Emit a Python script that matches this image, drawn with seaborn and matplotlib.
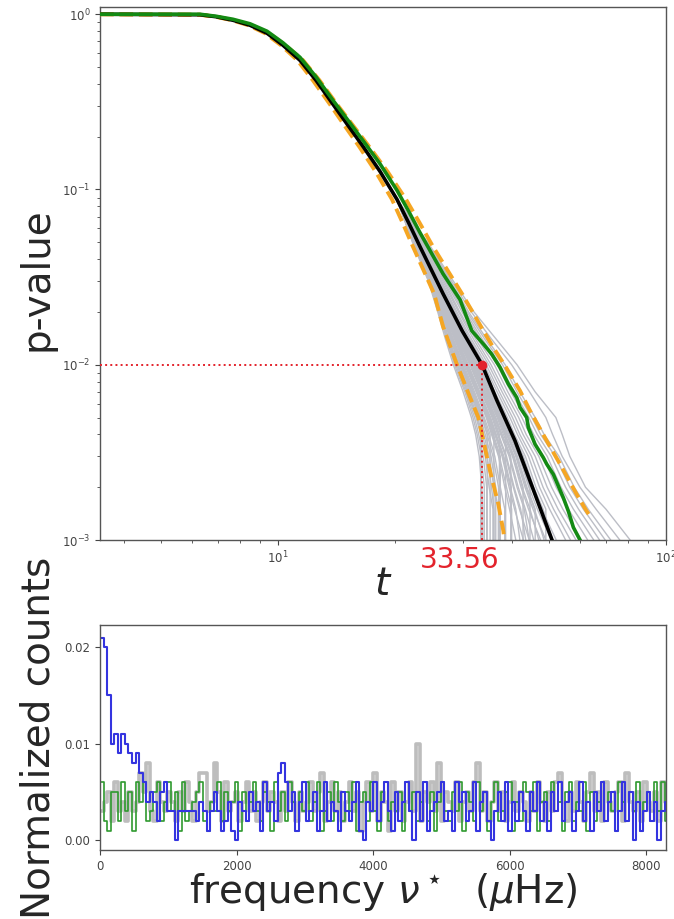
import numpy as np
import pandas as pd
import matplotlib
matplotlib.use("Agg")
import matplotlib.pyplot as plt
import seaborn as sns

# ---------------- top panel data ----------------
T_LIM = (3.477, 100.0)
P_LIM = (1e-3, 1.1)
T_CRIT = 33.56
P_ALPHA = 0.01

MEAN_T = [3.477, 6.295, 6.92, 7.656, 8.47, 9.368, 10.30, 11.39, 12.53, 13.86, 15.15, 16.56,
          18.32, 20.26, 21.69, 23.22, 26.63, 29.81, 33.56, 36.68, 40.81, 44.62, 50.84, 53.3]
MEAN_P = [1.0, 0.9934, 0.968, 0.924, 0.865, 0.779, 0.665, 0.546, 0.4196, 0.306, 0.232, 0.176,
          0.1267, 0.0877, 0.0648, 0.0472, 0.0254, 0.01564, 0.01, 0.00623, 0.00368, 0.00217,
          0.001, 0.00076]

OBS_T = [3.477, 6.295, 6.92, 7.656, 8.47, 9.368, 10.30, 11.39, 12.53, 13.86, 15.15, 16.56,
         18.32, 20.26, 21.69, 23.22, 26.63, 29.45, 31.57, 33.82, 35.54, 37.35, 39.23, 41.23,
         42.05, 43.75, 44.17, 45.96, 48.28, 49.26, 51.23, 54.37, 56.01, 57.70, 60.02, 61.46]
OBS_P = [1.0, 1.0, 0.974, 0.936, 0.882, 0.800, 0.687, 0.568, 0.439, 0.3225, 0.248, 0.190,
         0.140, 0.0988, 0.0754, 0.0567, 0.0330, 0.0235, 0.01564, 0.01313, 0.0115, 0.00965,
         0.00776, 0.0065, 0.0057, 0.0050, 0.00438, 0.00352, 0.00295, 0.00271, 0.00237,
         0.00174, 0.00146, 0.00118, 0.001, 0.00081]

LOW_T = [3.477, 6.295, 6.90, 7.61, 8.39, 9.26, 10.18, 11.22, 12.30, 13.61, 14.83, 16.18,
         17.84, 19.67, 20.93, 22.27, 25.25, 26.63, 28.88, 31.26, 32.84, 33.82, 35.18, 36.97,
         38.08, 38.46]
LOW_P = [1.0, 0.9934, 0.968, 0.924, 0.865, 0.779, 0.665, 0.546, 0.4196, 0.306, 0.232, 0.176,
         0.1267, 0.0877, 0.0648, 0.0472, 0.0254, 0.0165, 0.0101, 0.0065, 0.0050, 0.00368,
         0.00248, 0.0016, 0.001125, 0.00092]

HIGH_T = [3.477, 6.295, 6.94, 7.70, 8.55, 9.48, 10.45, 11.60, 12.79, 14.19, 15.60, 17.16,
          19.14, 21.37, 23.14, 25.08, 29.80, 33.82, 36.03, 38.46, 42.05, 44.62, 49.26, 53.31,
          58.87, 62.45, 63.69]
HIGH_P = [1.0, 0.9934, 0.968, 0.924, 0.865, 0.779, 0.665, 0.546, 0.4196, 0.306, 0.232, 0.176,
          0.1267, 0.0877, 0.0648, 0.0472, 0.0254, 0.01564, 0.01235, 0.00987, 0.0071, 0.00546,
          0.00368, 0.00271, 0.00182, 0.00146, 0.00137]

# simulated curves: common head, then t values at these p levels
SIM_HEAD_T = [3.477, 6.295, 6.92, 7.656, 8.47, 9.368, 10.30, 11.39, 12.53, 13.86, 15.15,
              16.56, 18.32, 20.26]
SIM_HEAD_P = [1.0, 0.9934, 0.968, 0.924, 0.865, 0.779, 0.665, 0.546, 0.4196, 0.306, 0.232,
              0.176, 0.1267, 0.0877]
SIM_TAIL_P = [0.05, 0.03, 0.02, 0.014, 0.01, 0.007, 0.005, 0.004, 0.003, 0.002, 0.0015, 0.001]
SIM_TAIL_T = [
    [22.2, 24.4, 25.8, 27.0, 28.3, 30.0, 31.5, 32.3, 33.0, 33.5, 33.7, 33.7],
    [22.3, 24.5, 26.0, 27.3, 28.7, 30.5, 32.1, 32.9, 33.8, 34.5, 34.5, 34.5],
    [22.4, 24.7, 26.2, 27.6, 29.1, 31.0, 32.7, 33.6, 34.6, 35.5, 36.0, 36.0],
    [22.4, 24.8, 26.4, 27.9, 29.5, 31.4, 33.2, 34.2, 35.4, 36.4, 36.4, 36.4],
    [22.5, 24.9, 26.6, 28.2, 29.9, 31.9, 33.8, 34.9, 36.2, 37.4, 38.4, 38.4],
    [22.6, 25.1, 26.8, 28.5, 30.3, 32.4, 34.4, 35.5, 37.0, 38.4, 39.5, 41.0],
    [22.7, 25.2, 27.0, 28.8, 30.7, 32.9, 35.0, 36.2, 37.8, 39.4, 40.7, 42.9],
    [22.8, 25.4, 27.3, 29.1, 31.2, 33.4, 35.6, 36.8, 38.6, 40.4, 41.9, 44.4],
    [22.8, 25.5, 27.5, 29.4, 31.6, 33.8, 36.1, 37.5, 39.4, 41.3, 43.1, 44.4],
    [22.9, 25.6, 27.7, 29.7, 32.0, 34.3, 36.7, 38.1, 40.2, 42.3, 44.2, 47.5],
    [23.0, 25.8, 27.9, 30.0, 32.4, 34.8, 37.3, 38.8, 41.0, 43.3, 45.4, 49.0],
    [23.1, 25.9, 28.1, 30.3, 32.8, 35.3, 37.9, 39.4, 41.8, 44.3, 46.6, 50.6],
    [23.2, 26.0, 28.3, 30.6, 33.2, 35.8, 38.5, 40.1, 42.6, 45.3, 47.8, 52.1],
    [23.2, 26.2, 28.5, 30.9, 33.6, 36.2, 39.0, 40.7, 43.4, 46.2, 49.0, 49.0],
    [23.3, 26.3, 28.7, 31.2, 34.0, 36.7, 39.6, 41.4, 44.2, 47.2, 50.1, 55.1],
    [23.4, 26.4, 28.9, 31.5, 34.4, 37.2, 40.2, 42.0, 45.0, 48.2, 51.3, 56.7],
    [23.5, 26.6, 29.2, 31.9, 34.9, 37.8, 40.9, 42.8, 46.0, 49.4, 52.7, 58.6],
    [23.6, 26.8, 29.4, 32.3, 35.4, 38.4, 41.7, 43.6, 47.0, 50.7, 54.2, 60.5],
    [23.7, 27.0, 29.8, 32.7, 36.1, 39.1, 42.5, 44.6, 48.2, 52.1, 56.0, 62.8],
    [23.8, 27.2, 30.1, 33.2, 36.7, 39.8, 43.4, 45.6, 49.4, 53.6, 57.7, 65.1],
    [24.0, 27.4, 30.4, 33.6, 37.3, 40.6, 44.3, 46.6, 50.6, 55.1, 59.5, 67.4],
    [24.1, 27.6, 30.7, 34.1, 37.9, 41.3, 45.1, 47.5, 51.8, 56.5, 61.2, 69.7],
    [24.2, 27.8, 31.0, 34.5, 38.5, 42.0, 46.0, 48.5, 53.0, 58.0, 63.0, 72.0],
    [24.2, 28.0, 31.5, 35.5, 40.0, 44.5, 49.0, 51.0, 54.0, 60.0, 66.0, 76.0],
    [24.3, 28.3, 32.0, 36.5, 41.3, 46.0, 52.0, 54.0, 56.5, 62.0, 70.0, 80.8],
    [22.3, 24.6, 26.1, 27.5, 29.0, 30.8, 32.5, 33.4, 33.4, 33.4, 33.4, 33.4],
    [22.5, 25.0, 26.7, 28.3, 30.1, 32.1, 34.0, 35.2, 35.2, 35.2, 35.2, 35.2],
    [22.6, 25.2, 26.9, 28.6, 30.5, 32.6, 34.7, 35.9, 37.4, 37.4, 37.4, 37.4],
    [22.7, 25.3, 27.1, 28.9, 30.9, 33.1, 35.3, 36.5, 38.2, 39.9, 39.9, 39.9],
    [22.9, 25.6, 27.6, 29.6, 31.8, 34.1, 36.4, 37.8, 39.8, 39.8, 39.8, 39.8],
    [23.0, 25.7, 27.8, 29.9, 32.2, 34.6, 37.0, 38.5, 40.6, 42.8, 42.8, 42.8],
    [23.1, 25.9, 28.0, 30.2, 32.6, 35.0, 37.6, 39.1, 41.4, 43.8, 46.0, 46.0],
    [22.8, 25.5, 27.4, 29.3, 31.4, 33.6, 35.9, 37.2, 37.2, 37.2, 37.2, 37.2],
    [22.4, 24.8, 26.5, 28.1, 29.7, 31.6, 33.5, 34.6, 34.6, 34.6, 34.6, 34.6],
    [23.3, 26.1, 28.4, 30.7, 33.3, 35.9, 38.7, 40.4, 42.9, 45.6, 48.2, 51.0],
    [22.3, 24.5, 25.9, 27.2, 28.5, 30.3, 31.8, 32.6, 33.4, 34.0, 34.0, 34.0],
    [22.4, 24.6, 26.1, 27.4, 28.9, 30.7, 32.4, 33.3, 34.2, 35.0, 35.8, 35.8],
    [22.5, 24.8, 26.3, 27.8, 29.3, 31.2, 33.0, 33.9, 35.0, 36.0, 37.0, 37.0],
    [22.6, 25.0, 26.6, 28.1, 29.8, 31.8, 33.6, 34.6, 35.8, 37.0, 37.0, 37.0],
    [22.6, 25.1, 26.9, 28.6, 30.4, 32.5, 34.5, 35.7, 37.2, 38.8, 40.0, 40.0],
    [22.7, 25.3, 27.2, 29.0, 30.9, 33.0, 35.2, 36.4, 38.0, 39.7, 41.0, 42.0],
    [22.8, 25.4, 27.4, 29.3, 31.3, 33.5, 35.8, 37.0, 38.8, 40.6, 42.2, 43.5],
    [22.9, 25.6, 27.6, 29.5, 31.7, 34.0, 36.3, 37.7, 39.6, 41.6, 43.4, 45.6],
    [23.0, 25.7, 27.8, 29.8, 32.1, 34.5, 36.9, 38.4, 40.4, 42.6, 44.6, 47.0],
    [23.1, 25.8, 28.0, 30.1, 32.5, 35.0, 37.5, 39.0, 41.2, 43.6, 45.8, 48.5],
    [23.2, 26.0, 28.2, 30.4, 32.9, 35.5, 38.0, 39.6, 42.0, 44.6, 44.6, 44.6],
    [22.5, 24.9, 26.5, 28.0, 29.6, 31.5, 33.3, 33.3, 33.3, 33.3, 33.3, 33.3],
    [22.7, 25.2, 27.0, 28.7, 30.6, 32.8, 34.8, 36.0, 36.0, 36.0, 36.0, 36.0],
    [23.0, 25.8, 27.9, 30.0, 32.3, 34.7, 37.2, 38.6, 38.6, 38.6, 38.6, 38.6],
]

# ---------------- bottom panel data (histograms, units of 1e-3) ----------------
FREQ_BIN_WIDTH = 52.0
FREQ_LIM = (0, 8290)
COUNTS_GRAY_MILLI = [
    3, 4, 5, 2, 6, 3, 4, 2, 5, 3, 4, 7, 5, 8, 3, 2, 6, 4, 3, 5,
    4, 2, 5, 3, 6, 4, 2, 5, 7, 7, 3, 4, 8, 5, 2, 6, 3, 4, 5, 2,
    4, 6, 3, 5, 2, 4, 6, 3, 5, 4, 2, 5, 3, 6, 4, 2, 5, 3, 4, 6,
    3, 5, 7, 2, 4, 6, 3, 5, 2, 4, 6, 3, 5, 1, 4, 6, 3, 7, 2, 5,
    4, 1, 6, 3, 5, 2, 4, 6, 3, 10, 2, 5, 4, 6, 3, 8, 2, 5, 4, 3,
    6, 2, 4, 5, 3, 6, 8, 3, 5, 2, 4, 6, 3, 5, 2, 4, 6, 3, 5, 4,
    2, 5, 3, 6, 4, 2, 5, 3, 6, 7, 4, 2, 5, 3, 6, 4, 2, 5, 7, 3,
    5, 2, 6, 4, 3, 5, 6, 2, 7, 4, 3, 5, 2, 6, 4, 3, 5, 2, 6, 4,
]
COUNTS_GREEN_MILLI = [
    6, 2, 1, 5, 5, 2, 6, 3, 5, 1, 6, 4, 6, 2, 3, 5, 6, 2, 4, 6,
    3, 5, 1, 6, 2, 3, 4, 5, 6, 2, 1, 4, 3, 6, 2, 5, 3, 4, 6, 1,
    5, 2, 4, 6, 3, 2, 5, 4, 1, 6, 3, 5, 2, 6, 4, 1, 5, 3, 6, 2,
    4, 6, 1, 3, 5, 2, 6, 4, 2, 5, 3, 6, 1, 4, 5, 2, 6, 3, 1, 5,
    6, 2, 4, 3, 5, 1, 6, 3, 5, 2, 4, 6, 2, 5, 1, 4, 6, 3, 2, 5,
    3, 6, 1, 5, 4, 2, 6, 3, 5, 1, 4, 6, 2, 3, 5, 6, 1, 4, 2, 6,
    5, 3, 6, 1, 4, 5, 2, 6, 3, 4, 1, 5, 6, 2, 4, 3, 6, 1, 5, 2,
    4, 6, 2, 5, 3, 1, 6, 4, 2, 5, 3, 6, 1, 4, 5, 2, 6, 3, 6, 2,
]
COUNTS_BLUE_MILLI = [
    21, 20, 15, 10, 11, 9, 11, 10, 9, 8, 9, 7, 6, 4, 5, 4, 2, 5, 6, 3,
    3, 0, 3, 3, 3, 3, 3, 2, 4, 3, 1, 3, 5, 3, 1, 2, 4, 1, 0, 4,
    3, 2, 5, 3, 4, 1, 6, 3, 4, 2, 7, 8, 6, 3, 5, 1, 4, 6, 2, 3,
    5, 1, 3, 6, 2, 4, 3, 1, 5, 3, 2, 4, 6, 1, 0, 4, 3, 6, 2, 4,
    6, 3, 1, 5, 2, 4, 6, 3, 0, 5, 2, 6, 1, 3, 4, 5, 6, 2, 3, 1,
    6, 4, 5, 2, 3, 6, 1, 4, 5, 2, 0, 3, 5, 2, 6, 1, 4, 2, 5, 3,
    1, 5, 3, 6, 2, 4, 1, 5, 3, 6, 2, 4, 5, 1, 3, 6, 2, 4, 1, 5,
    3, 6, 2, 4, 5, 1, 3, 6, 2, 5, 0, 4, 1, 3, 5, 2, 4, 0, 3, 4,
]

# ---------------- styling ----------------
sns.set_style("ticks")
plt.rcParams["font.family"] = ["DejaVu Sans"]
plt.rcParams["axes.edgecolor"] = "#555555"
plt.rcParams["axes.linewidth"] = 1.0
plt.rcParams["xtick.color"] = "#444444"
plt.rcParams["ytick.color"] = "#444444"
plt.rcParams["xtick.labelsize"] = 8.5
plt.rcParams["ytick.labelsize"] = 8.5
plt.rcParams["mathtext.fontset"] = "dejavusans"

RED = "#e3232c"
GRAY = "#bcbec6"
ORANGE = "#f5a623"
GREEN = "#138a13"

fig = plt.figure(figsize=(6.74, 9.19), dpi=100)
ax1 = fig.add_axes([0.1484, 0.4124, 0.8398, 0.5800])
ax2 = fig.add_axes([0.1484, 0.0751, 0.8398, 0.2448])

# ---- top panel ----
rows = []
for k, tail in enumerate(SIM_TAIL_T):
    for t, p in zip(SIM_HEAD_T + tail, SIM_HEAD_P + SIM_TAIL_P):
        rows.append({"sim": k, "t": t, "p": p})
sims = pd.DataFrame(rows)

ax1.set_xscale("log")
ax1.set_yscale("log")
sns.lineplot(data=sims, x="t", y="p", units="sim", estimator=None, sort=False,
             color=GRAY, lw=1.0, legend=False, ax=ax1, zorder=1)
for tt, pp in [(LOW_T, LOW_P), (HIGH_T, HIGH_P)]:
    sns.lineplot(x=tt, y=pp, sort=False, color=ORANGE, lw=2.8, ax=ax1,
                 linestyle=(0, (3.5, 1.5)), zorder=3)
sns.lineplot(x=MEAN_T, y=MEAN_P, sort=False, color="black", lw=2.6, ax=ax1, zorder=4)
sns.lineplot(x=OBS_T, y=OBS_P, sort=False, color=GREEN, lw=2.6, ax=ax1, zorder=5)

ax1.hlines(P_ALPHA, T_LIM[0], T_CRIT, colors=RED, linestyles=":", lw=1.4, zorder=6)
ax1.vlines(T_CRIT, P_LIM[0], P_ALPHA, colors=RED, linestyles=":", lw=1.4, zorder=6)
ax1.plot([T_CRIT], [P_ALPHA], "o", color=RED, ms=6, zorder=7)

ax1.set_xlim(*T_LIM)
ax1.set_ylim(*P_LIM)
ax1.set_xlabel("$t$", fontsize=28)
ax1.xaxis.set_label_coords(0.5, -0.046)
ax1.set_ylabel("p-value", fontsize=28)
ax1.yaxis.set_label_coords(-0.079, 0.49)
ax1.text(T_CRIT * 0.878, -0.037, f"{T_CRIT:.2f}", color=RED, fontsize=20,
         ha="center", va="center", transform=ax1.get_xaxis_transform())

# ---- bottom panel ----
for vals, col, lw in [(COUNTS_GRAY_MILLI, "#bdbdbd", 2.6),
                      (COUNTS_GREEN_MILLI, "#2f9a2f", 1.2),
                      (COUNTS_BLUE_MILLI, "#3434e0", 1.5)]:
    n = len(vals)
    centers = (np.arange(n) + 0.5) * FREQ_BIN_WIDTH
    df = pd.DataFrame({"freq": centers, "w": np.array(vals, dtype=float) * 1e-3})
    sns.histplot(data=df, x="freq", weights="w", binwidth=FREQ_BIN_WIDTH,
                 binrange=(0, n * FREQ_BIN_WIDTH), element="step", fill=False,
                 color=col, linewidth=lw, ax=ax2)

ax2.set_xlim(*FREQ_LIM)
ax2.set_ylim(-0.001, 0.0223)
ax2.set_yticks([0.0, 0.01, 0.02])
ax2.set_yticklabels(["0.00", "0.01", "0.02"])
ax2.set_xticks([0, 2000, 4000, 6000, 8000])
ax2.set_xlabel(r"frequency $\nu^\star$  ($\mu$Hz)", fontsize=28)
ax2.xaxis.set_label_coords(0.5, -0.095)
ax2.set_ylabel("Normalized counts", fontsize=28)
ax2.yaxis.set_label_coords(-0.076, 0.5)

fig.savefig("out.png", dpi=100)
